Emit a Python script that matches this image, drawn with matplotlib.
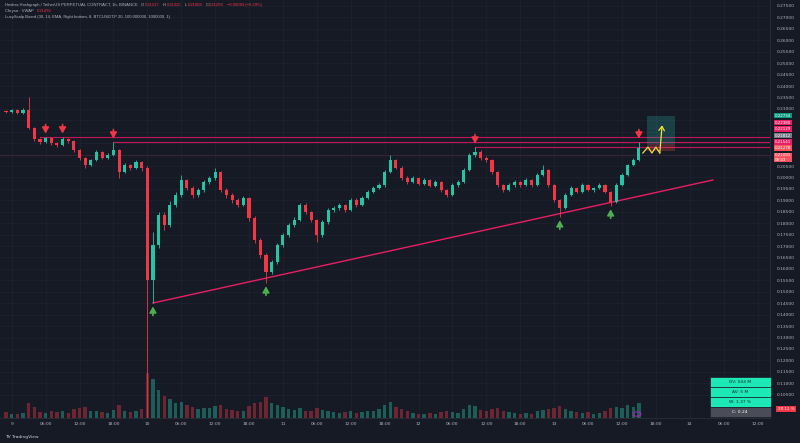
import numpy as np
import matplotlib.pyplot as plt
import matplotlib.transforms as mtransforms
from matplotlib.patches import Rectangle

# ---- data (HBAR/USDT perp, 1h) ----
first_open = 0.2290
start_hour = -1   # hours from day 9 00:00

closes = [.2286, .2295, .2282, .2295, .2216, .2168, .2155, .2170, .2150, .2140,
          .2168, .2160, .2120, .2085, .2054, .2076, .2111, .2085, .2098, .2120,
          .2024, .2054, .2041, .2068, .2041, .1551, .1705, .1836, .1792, .1880,
          .1923, .1989, .1954, .1923, .1945, .1980, .1998, .2024, .1945, .1923,
          .1901, .1880, .1910, .1823, .1726, .1661, .1587, .1630, .1705, .1748,
          .1792, .1814, .1880, .1849, .1814, .1748, .1805, .1858, .1866, .1880,
          .1858, .1901, .1880, .1910, .1936, .1954, .1967, .2024, .2076, .2041,
          .1998, .1980, .1998, .1971, .1989, .1963, .1980, .1945, .1923, .1967,
          .1980, .2033, .2098, .2111, .2085, .2076, .2024, .1967, .1945, .1967,
          .1980, .1967, .1989, .1967, .2011, .2033, .1967, .1901, .1866, .1923,
          .1954, .1936, .1967, .1945, .1954, .1967, .1936, .1893, .1967, .2011,
          .2054, .2076, .2129]
highs = [.2297, .2301, .2299, .2304, .2352, .2220, .2172, .2177, .2172, .2156,
         .2177, .2172, .2163, .2126, .2090, .2082, .2118, .2115, .2106, .2155,
         .2124, .2062, .2060, .2075, .2072, .2048, .1760, .1850, .1850, .1895,
         .1935, .2011, .1995, .1962, .1955, .1990, .2008, .2041, .2030, .1955,
         .1930, .1908, .1918, .1915, .1830, .1735, .1668, .1640, .1712, .1758,
         .1800, .1825, .1890, .1888, .1855, .1820, .1812, .1866, .1875, .1890,
         .1886, .1910, .1908, .1918, .1945, .1962, .1975, .2032, .2098, .2082,
         .2048, .2005, .2006, .2004, .1996, .1994, .1987, .1985, .1950, .1974,
         .1988, .2040, .2105, .2133, .2118, .2092, .2082, .2030, .1972, .1975,
         .1988, .1986, .1996, .1994, .2018, .2054, .2038, .1972, .1906, .1930,
         .1962, .1960, .1974, .1972, .1960, .1975, .1972, .1940, .1974, .2018,
         .2060, .2085, .2155]
lows = [.2280, .2281, .2276, .2279, .2210, .2160, .2148, .2150, .2144, .2132,
        .2136, .2150, .2112, .2078, .2040, .2048, .2070, .2080, .2079, .2094,
        .1998, .2018, .2032, .2036, .2030, .0900, .1451, .1690, .1770, .1785,
        .1872, .1915, .1945, .1910, .1915, .1938, .1972, .1990, .1935, .1912,
        .1890, .1870, .1874, .1810, .1712, .1648, .1539, .1578, .1622, .1698,
        .1740, .1785, .1808, .1840, .1805, .1718, .1740, .1798, .1850, .1858,
        .1850, .1852, .1872, .1875, .1905, .1930, .1948, .1960, .2018, .2035,
        .1990, .1972, .1975, .1965, .1966, .1958, .1958, .1938, .1915, .1918,
        .1960, .1975, .2028, .2090, .2078, .2068, .2015, .1958, .1938, .1940,
        .1960, .1960, .1962, .1960, .1962, .2005, .1960, .1894, .1828, .1860,
        .1918, .1930, .1930, .1940, .1938, .1950, .1930, .1876, .1888, .1962,
        .2005, .2048, .2070]
volumes = [8, 6, 5, 7, 20, 15, 8, 7, 9, 8,
           10, 7, 12, 14, 15, 9, 10, 8, 7, 11,
           18, 10, 8, 9, 12, 60, 52, 38, 30, 25,
           20, 22, 18, 15, 12, 14, 13, 16, 18, 12,
           11, 10, 9, 16, 20, 22, 28, 20, 18, 15,
           12, 11, 14, 10, 9, 13, 11, 10, 8, 7,
           8, 9, 7, 8, 10, 9, 12, 18, 22, 15,
           12, 9, 7, 6, 6, 7, 6, 8, 9, 8,
           7, 12, 18, 16, 11, 9, 12, 14, 10, 8,
           7, 6, 7, 6, 9, 11, 12, 14, 16, 12,
           9, 8, 7, 8, 6, 7, 9, 13, 15, 14,
           17, 15, 20]

# levels / drawings
level_prices = [0.2177, 0.2155, 0.2133]
level_starts = [5, 18, 82]
faint_level = 0.2098
trend_hours = [25.0, 124.1]
trend_prices = [0.1451, 0.1989]
sell_marks = [6, 9, 18, 82, 111]     # hours with red arrows
buy_marks = [25, 45, 97, 106]        # hours with green arrows
zig_hours = [111.7, 112.6, 113.3, 114.0, 114.7, 115.1]
zig_prices = [0.2107, 0.2133, 0.2107, 0.2133, 0.2107, 0.2228]
box_hours = [112.5, 117.4]
box_prices = [0.2116, 0.2146, 0.2269]

tick_hours = list(range(0, 133, 6))
tick_labels = ["9", "06:00", "12:00", "18:00", "10", "06:00", "12:00", "18:00",
               "11", "06:00", "12:00", "18:00", "12", "06:00", "12:00", "18:00",
               "13", "06:00", "12:00", "18:00", "14", "06:00", "12:00"]
price_ticks = np.arange(0.105, 0.2751, 0.005)

stack_prices = [0.22700, 0.22390, 0.22120, 0.21820, 0.21550, 0.21290, 0.20880]
stack_texts = ["0.22734", "0.22380", "0.22129", "0.21812", "0.21541", "0.21278", "0.21093\n08:43"]
stack_colors = ["#089981", "#e91e63", "#e91e63", "#787b86", "#e91e63", "#f7525f", "#f7525f"]

header_parts = [("Hedera Hashgraph / TetherUS PERPETUAL CONTRACT, 1h, BINANCE", "txt"),
                ("O", "txt"), ("0.21217", "red"), ("H", "txt"), ("0.21325", "red"),
                ("L", "txt"), ("0.21008", "red"), ("C", "txt"), ("0.21293", "red"),
                ("\u22120.00084 (\u22120.39%)", "red")]
vwap_parts = [("Chrysa \u00b7 VWAP", "txt"), ("0.21470", "red")]
board_line = "LuxyScalp Board (30, 14, EMA, Right bottom, 8, BTCUSDT.P 20, 100 000000, 1000000, 1)"
table_rows = ["DV: 504 M", "AV: 5 M", "W: 1.37 %", "C: 0.24"]

bg = "#161a25"
up = "#26c4a4"
down = "#f23645"
txt = "#b2b5be"
grid = "#1e2230"

hours = np.arange(start_hour, start_hour + len(closes))
opens = np.r_[first_open, closes[:-1]]
closes = np.array(closes)
rising = closes >= opens
colors = np.where(rising, up, down)

fig = plt.figure(figsize=(8, 4.43), dpi=100, facecolor=bg)
ax = fig.add_axes([0, 25 / 443, 770 / 800, 418 / 443])
ax.set_facecolor(bg)
ax.set_xlim(-2.07, 134.2)
ax.set_ylim(0.09479, 0.27762)

# volume pane
vax = fig.add_axes([0, 25 / 443, 770 / 800, 48 / 443], sharex=ax)
vax.patch.set_alpha(0)
vax.bar(hours, volumes, width=0.6, color=colors, alpha=0.4, zorder=1)
vax.set_ylim(0, 64)
vax.axis("off")

# grid
for t in tick_hours:
    ax.axvline(t, color=grid, lw=0.6, zorder=0)
for p in price_ticks:
    ax.axhline(p, color=grid, lw=0.6, zorder=0)

# candles
ax.vlines(hours, lows, highs, colors=colors, lw=0.6, zorder=3)
ax.bar(hours, np.abs(closes - opens) + 0.00015, bottom=np.minimum(opens, closes),
       width=0.55, color=colors, zorder=4)

# levels
for p, s in zip(level_prices, level_starts):
    ax.plot([s, 134.2], [p, p], color="#c2185b", lw=0.8, zorder=2)
ax.axhline(faint_level, color="#3d2434", lw=0.6, zorder=1)
ax.plot(trend_hours, trend_prices, color="#e91e63", lw=1.0, zorder=2)

# signal arrows
arrow_style = "-|>,head_length=0.35,head_width=0.2"
for h in sell_marks:
    i = h - start_hour
    ax.annotate("", xy=(h, highs[i]), xycoords="data",
                xytext=(0, 9), textcoords="offset points",
                arrowprops=dict(arrowstyle=arrow_style, color=down, lw=1.2,
                                shrinkA=0, shrinkB=2.5), zorder=6)
for h in buy_marks:
    i = h - start_hour
    ax.annotate("", xy=(h, lows[i]), xycoords="data",
                xytext=(0, -9), textcoords="offset points",
                arrowprops=dict(arrowstyle=arrow_style, color="#4caf50", lw=1.2,
                                shrinkA=0, shrinkB=2.5), zorder=6)

# projection box and path
ax.add_patch(Rectangle((box_hours[0], box_prices[1]), box_hours[1] - box_hours[0],
                       box_prices[2] - box_prices[1], fc="#26a69a", alpha=0.28, ec="none", zorder=2))
ax.add_patch(Rectangle((box_hours[0], box_prices[0]), box_hours[1] - box_hours[0],
                       box_prices[1] - box_prices[0], fc="#ef5350", alpha=0.25, ec="none", zorder=2))
ax.plot(zig_hours[:-1], zig_prices[:-1], color="#f5e142", lw=0.9, zorder=5)
ax.annotate("", xy=(zig_hours[-1], zig_prices[-1]), xytext=(zig_hours[-2], zig_prices[-2]),
            arrowprops=dict(arrowstyle="->,head_length=0.3,head_width=0.2", color="#f5e142", lw=0.9,
                            shrinkA=0, shrinkB=0), zorder=5)

# axes styling; scale labels under the price stack are hidden, as on the chart
ax.set_xticks(tick_hours)
ax.set_xticklabels(tick_labels)
ax.yaxis.tick_right()
ax.set_yticks(price_ticks)
ax.set_yticklabels(["" if 0.2075 < p < 0.2275 else f"{p:.5f}" for p in price_ticks])
ax.tick_params(axis="x", length=0, pad=3, labelsize=3.2, colors=txt)
ax.tick_params(axis="y", length=0, pad=5, labelsize=3.2, colors=txt)
for s in ["top", "left"]:
    ax.spines[s].set_visible(False)
ax.spines["right"].set_color("#2a2e39")
ax.spines["bottom"].set_color("#2a2e39")
ax.spines["right"].set_linewidth(0.6)
ax.spines["bottom"].set_linewidth(0.6)

# price labels on the scale
blend = mtransforms.blended_transform_factory(ax.transAxes, ax.transData)
for p, t, c in zip(stack_prices, stack_texts, stack_colors):
    ax.text(1.0065, p, t, transform=blend, fontsize=2.9, color="white", ha="left", va="center",
            linespacing=1.15, bbox=dict(boxstyle="square,pad=0.15", fc=c, ec="none"),
            clip_on=False, zorder=8)

# header lines, laid out piece by piece
renderer = fig.canvas.get_renderer()
pal = {"txt": txt, "red": down}

def header_row(x, y, parts, size=3.0):
    for s, c in parts:
        t = fig.text(x / 800, 1 - y / 443, s, color=pal[c], fontsize=size, va="center",
                     ha="left", family="Liberation Sans")
        x += t.get_window_extent(renderer).width + (1.0 if c == "txt" and len(s) == 1 else 3.0)

header_row(5, 5, header_parts)
header_row(5, 11, vwap_parts)
header_row(5, 17, [(board_line, "txt")])

# board at bottom right
row_tops = [377, 387, 397, 407]
for i, (r, y0) in enumerate(zip(table_rows, row_tops)):
    fc = "#1de9b6" if i < 3 else "#4a4d57"
    fig.add_artist(Rectangle((710 / 800, 1 - (y0 + 10) / 443), 61 / 800, 10 / 443,
                             transform=fig.transFigure, fc=fc, ec="#1b1f2a", lw=0.5))
    fig.text(740 / 800, 1 - (y0 + 5) / 443, r, fontsize=3.2, ha="center", va="center",
             color="#1a2a2a" if i < 3 else "white")
fig.text(786 / 800, 1 - 409 / 443, "20.11 %", fontsize=3.0, ha="center", va="center", color="white",
         bbox=dict(boxstyle="square,pad=0.3", fc="#f23645", ec="none"))

# small event marker and logo
fig.add_artist(plt.Circle((637 / 800, 1 - 414 / 443), 0.005, transform=fig.transFigure,
                          fc="none", ec="#9c27b0", lw=0.8))
fig.text(5 / 800, 1 - 437 / 443, "TV TradingView", fontsize=3.2, color="#d1d4dc", va="center")

fig.savefig("out.png", dpi=100, facecolor=bg)
